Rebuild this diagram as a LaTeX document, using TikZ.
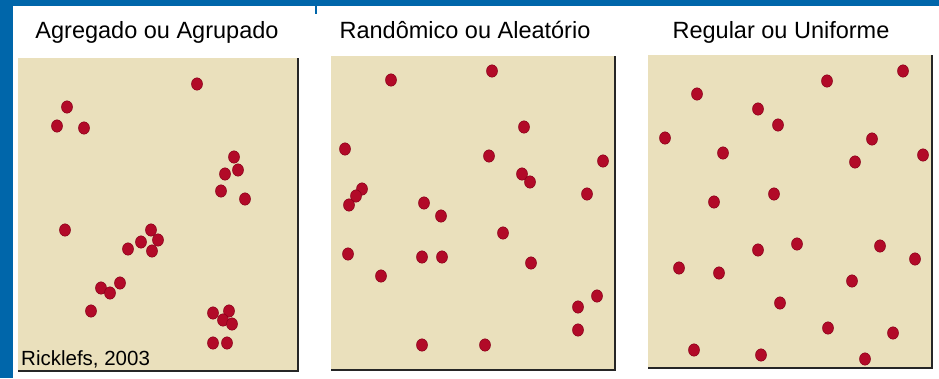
\documentclass[tikz,border=0pt]{standalone}
\usepackage{fontspec}
\setmainfont{Liberation Sans}
\definecolor{frameblue}{RGB}{0,102,170}
\definecolor{sand}{RGB}{234,224,188}
\definecolor{seedred}{RGB}{178,10,40}
\definecolor{seededge}{RGB}{135,0,25}
\tikzset{
  panel/.style={fill=sand},
  panelshadow/.style={draw=black!85,line width=1.6pt},
  seed/.style={fill=seedred,draw=seededge,line width=0.5pt},
  heading/.style={anchor=base,inner sep=0pt,font=\fontsize{23.5}{28}\selectfont},
}

\begin{document}
\begin{tikzpicture}[x=1pt,y=-1pt]
    \useasboundingbox[fill=white] (0,0) rectangle (939,378);

    % Blue slide frame.
    \fill[frameblue] (0,0) rectangle (939,6);
    \fill[frameblue] (0,0) rectangle (13,378);
    \draw[frameblue,line width=1.5pt] (316,6) -- (316,14);

    % Headings.
    \node[heading] (tagr) at (157,38) {Agregado ou Agrupado};
    \node[heading] (trand) at (465,38) {Randômico ou Aleatório};
    \node[heading] (tunif) at (781,38) {Regular ou Uniforme};

    % Sample plots.
    \fill[panel] (18,58) rectangle (298,371);
    \draw[panelshadow] (298,58) -- (298,371) -- (18,371);
    \fill[panel] (331,56) rectangle (615,370);
    \draw[panelshadow] (615,56) -- (615,370) -- (331,370);
    \fill[panel] (648,55) rectangle (932,368);
    \draw[panelshadow] (932,55) -- (932,368) -- (648,368);

    % Clumped individuals.
    \foreach \px/\py in {197/84,67/107,57/126,84/128,234/157,238/170,225/174,
        221/191,245/199,65/230,151/230,158/240,141/242,128/249,152/251,
        120/283,101/288,110/293,91/311,213/313,229/311,223/320,232/324,
        213/343,227/343}
      \path[seed] (\px,\py) ellipse[x radius=5.5pt,y radius=6.2pt];

    % Random individuals.
    \foreach \px/\py in {391/80,492/71,524/127,345/149,489/156,603/161,
        522/174,530/182,362/189,356/196,349/205,424/203,441/216,587/194,
        503/233,348/254,422/257,442/257,531/263,381/276,597/296,578/307,
        578/330,422/345,485/345}
      \path[seed] (\px,\py) ellipse[x radius=5.5pt,y radius=6.2pt];

    % Uniform individuals.
    \foreach \px/\py in {697/94,827/81,903/71,758/109,778/125,665/138,
        872/139,723/153,855/162,923/155,774/194,714/202,797/244,880/246,
        758/250,915/259,679/268,719/273,852/281,780/303,828/328,893/333,
        694/350,761/355,865/359}
      \path[seed] (\px,\py) ellipse[x radius=5.5pt,y radius=6.2pt];

    % Source.
    \node[anchor=base west,inner sep=0pt,font=\fontsize{20.5}{24}\selectfont] (cite) at (21,365) {Ricklefs, 2003};
\end{tikzpicture}
\end{document}
